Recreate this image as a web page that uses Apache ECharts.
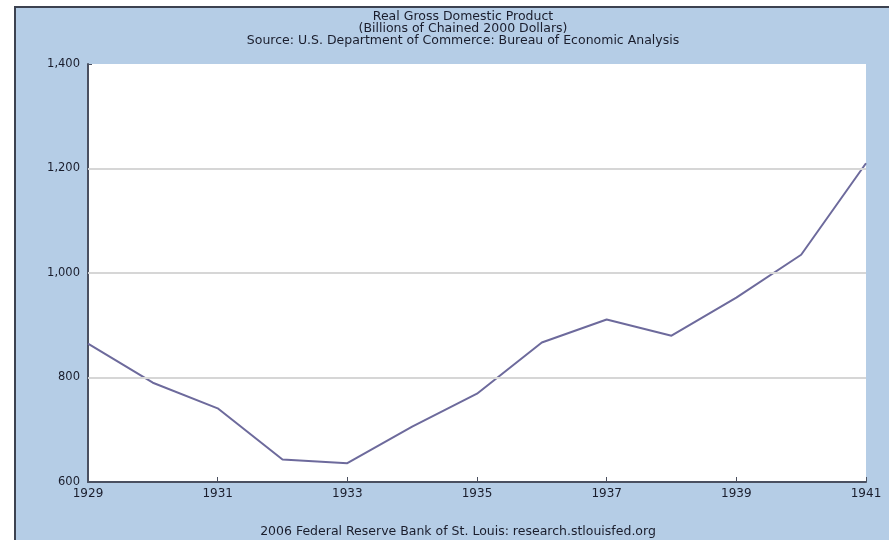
<!DOCTYPE html>
<html>
<head>
<meta charset="utf-8">
<script src="https://cdn.jsdelivr.net/npm/echarts@6/dist/echarts.min.js"></script>
<style>
html,body{margin:0;padding:0;background:#ffffff;width:889px;height:540px;overflow:hidden;}
#frame{position:absolute;left:14px;top:6px;width:873px;height:532px;border-top:2px solid #3c4250;border-left:2px solid #3c4250;background:#b5cde6;}
#chart{width:873px;height:532px;}
</style>
</head>
<body>
<div id="frame"><div id="chart"></div></div>
<script>
const years = [1929,1930,1931,1932,1933,1934,1935,1936,1937,1938,1939,1940,1941];
const gdp = [865,790,741,643,636,706,769,867,911,880,953,1035,1210];
const gridValues = [800,1000,1200];
const titleLines = ["Real Gross Domestic Product","(Billions of Chained 2000 Dollars)","Source: U.S. Department of Commerce: Bureau of Economic Analysis"];
const footer = "2006 Federal Reserve Bank of St. Louis: research.stlouisfed.org";
const yMin = 600, yMax = 1400, yStep = 200;
const xMin = 1929, xMax = 1941, xStep = 2;

const chart = echarts.init(document.getElementById('chart'));
const font = "'DejaVu Sans', Verdana, sans-serif";
const txtColor = '#1a1d2c';
chart.setOption({
  animation: false,
  backgroundColor: 'transparent',
  graphic: [
    {type:'text', x: 447, y: 3, style:{text: titleLines.join('\n'), font: '12.5px ' + font, fill: txtColor, textAlign:'center', textVerticalAlign:'top', lineHeight: 12}},
    {type:'text', x: 442, y: 517, style:{text: footer, font: '12.5px ' + font, fill: txtColor, textAlign:'center', textVerticalAlign:'top'}}
  ],
  grid: {left: 72, top: 56, right: 23, bottom: 58, show: true, backgroundColor: '#ffffff', borderWidth: 0},
  xAxis: {
    type: 'value', min: xMin, max: xMax, interval: xStep,
    axisLine: {show: true, lineStyle: {color: '#4a5060', width: 2}},
    axisTick: {show: true, inside: true, length: 5, lineStyle: {color: '#4a5060', width: 1}},
    axisLabel: {color: txtColor, fontFamily: font, fontSize: 12, margin: 6, formatter: v => String(v)},
    splitLine: {show: false}
  },
  yAxis: {
    type: 'value', min: yMin, max: yMax, interval: yStep,
    axisLine: {show: true, lineStyle: {color: '#4a5060', width: 2}},
    axisTick: {show: true, inside: true, length: 4, lineStyle: {color: '#4a5060', width: 1}},
    axisLabel: {color: txtColor, fontFamily: font, fontSize: 11.5, margin: 8, formatter: v => v.toLocaleString('en-US')},
    splitLine: {show: false}
  },
  series: [{
    type: 'line',
    data: years.map((y, i) => [y, gdp[i]]),
    showSymbol: false,
    lineStyle: {color: '#6d6a9c', width: 2},
    z: 3,
    markLine: {
      silent: true, symbol: 'none', label: {show: false},
      lineStyle: {color: '#d6d6d6', width: 2, type: 'solid'},
      data: gridValues.map(v => ({yAxis: v}))
    }
  }]
});
</script>
</body>
</html>
